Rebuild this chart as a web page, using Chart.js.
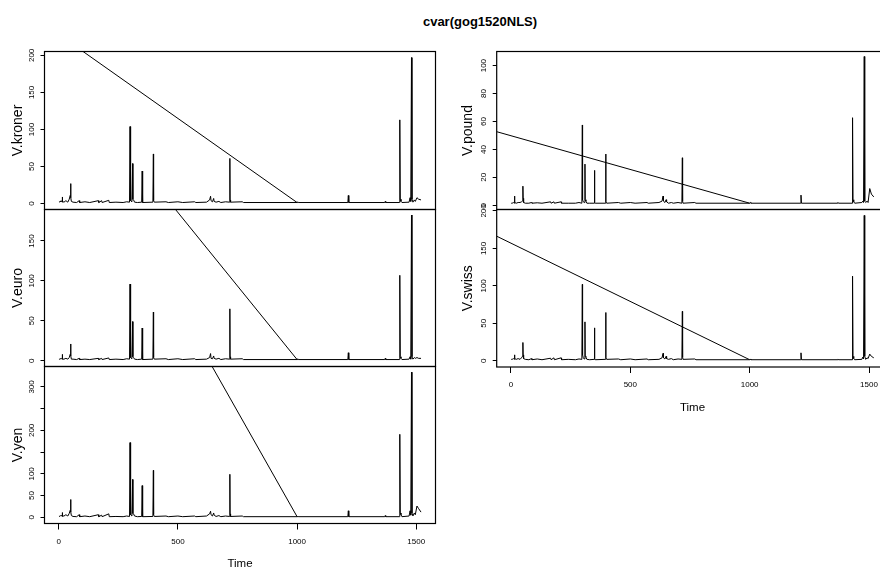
<!DOCTYPE html>
<html><head><meta charset="utf-8">
<script src="https://cdn.jsdelivr.net/npm/chart.js@4.4.1/dist/chart.umd.min.js"></script>
<style>
html,body{margin:0;padding:0;background:#fff;width:880px;height:569px;overflow:hidden;position:relative}
canvas{position:absolute;display:block}
#title{position:absolute;left:330px;width:300px;top:14px;text-align:center;font:bold 13px 'Liberation Sans',Arial,sans-serif;line-height:16px;color:#000}
</style></head><body>
<div id="title">cvar(gog1520NLS)</div>
<canvas id="cKroner"></canvas>
<canvas id="cEuro"></canvas>
<canvas id="cYen"></canvas>
<canvas id="cPound"></canvas>
<canvas id="cSwiss"></canvas>
<script>
// ---------------- data ----------------
const times = [
 1,5,10,14,15,16,22,30,38,44,
 48,50,51,53,60,75,86,88,110,130,
 166,168,180,182,210,212,240,270,285,297,
 299,300,303,307,310,311,314,318,330,348,
 350,351,353,395,397,398,401,450,460,500,
 520,570,575,620,633,637,639,645,650,652,
 660,672,680,700,716,718,719,721,770,775,
 1000,1003,1005,1213,1215,1217,1368,1370,1372,1429,
 1431,1433,1436,1440,1470,1474,1477,1480,1482,1486,
 1492,1496,1503,1510,1520];
const vKroner = [
 3,2,4,2,9,3,2,4,2,6,
 11,27,8,3,2,1.5,4,1.5,2.5,1.5,
 4,1.5,4,1.5,4.5,1.5,2,1.5,2.5,2,
 104,8,4,2.5,54,6,5,2,1.5,2,
 44,3,1.5,2,67,4,2,2.5,1.5,2.5,
 1.5,2.5,1.5,2,5,10,4,2.5,7,3,
 2,3,1.5,2.5,2,61,5,2,2.5,1.5,
 1.5,2.5,1.5,1.5,11,1.5,1.5,3,1.5,1.5,
 113,6,3,1.5,2,8,3,197,6,2,
 5,3,8,6,5];
const vEuro = [
 2,2,3,2,8,2,2,3,2,4,
 8,21,6,2,2,1.5,3,1.5,2,1.5,
 3,1.5,3,1.5,3.5,1.5,2,1.5,2.5,2,
 96,7,4,2.5,49,5,4,2,1.5,2,
 41,3,1.5,2,61,4,2,2.5,1.5,2.5,
 1.5,2.5,1.5,2,4,9,3,2.5,6,3,
 2,3,1.5,2.5,2,65,5,2,2.5,1.5,
 1.5,2.5,1.5,1.5,10,1.5,1.5,3,1.5,1.5,
 107,5,3,1.5,2,5,2,182.5,5,2,
 4,3,4,3,3];
const vYen = [
 3,2,5,2,11,3,3,6,3,9,
 16,41,12,4,2,1.5,6,1.5,3,1.5,
 6,1.5,5,1.5,8,1.5,2,1.5,3,2,
 172,12,6,3,87,9,8,3,1.5,2,
 73,5,1.5,2,108,6,2,3,1.5,3,
 1.5,3,1.5,3,8,14,6,3,10,5,
 2,4,1.5,3,2,99,8,2,3,1.5,
 1.5,3,1.5,1.5,15,1.5,1.5,4,1.5,1.5,
 191,10,6,1.5,3,15,5,334,10,3,
 10,6,26,20,12];
const vPound = [
 1.5,1.5,2,1.5,6.6,2,1.5,2,2,2.5,
 3,13.7,5,2,1.5,1.5,2,1.5,1.8,1.5,
 2.5,1.5,2.5,1.5,2.5,1.5,1.5,1.5,2,1.5,
 57.5,4,2.5,2,29.5,4,3,1.5,1.5,1.5,
 25,2,1.5,1.5,36.7,2.5,1.5,2,1.5,2,
 1.5,2,1.5,2,3,6.6,3,2,4,2.5,
 1.5,2,1.5,2,1.5,34,3,1.5,2,1.5,
 1.5,2,1.5,1.5,7.3,1.5,1.5,2,1.5,1.5,
 62.7,4,2.5,1.5,2,3,2,106.5,3,2,
 3,2,12,8,6];
const vSwiss = [
 2,2,3,2,8,3,2,3,2,4,
 6,24.5,8,3,2,1.5,3,1.5,2.5,1.5,
 3.5,1.5,4,1.5,4,1.5,2,1.5,2.5,2,
 102,8,4,2.5,52,6,5,2,1.5,2,
 44,3,1.5,2,64.5,4,2,2.5,1.5,2.5,
 1.5,2.5,1.5,2,4,10,4,2.5,6,3,
 2,3,1.5,2.5,2,66,5,2,2.5,1.5,
 1.5,2.5,1.5,1.5,10.7,1.5,1.5,2.5,1.5,1.5,
 113,6,3,1.5,2,5,2.5,194,6,2,
 4,3,9,6,4];

// diagonal segments (visible endpoints)
const diagTKroner = [102, 1000];   const diagVKroner = [205.2, 1.5];
const diagTEuro   = [490, 1000];   const diagVEuro   = [189.4, 1.5];
const diagTYen    = [643.6, 1000]; const diagVYen    = [347, 1.5];
const diagTPound  = [-60, 1000];   const diagVPound  = [52.7, 1.5];
const diagTSwiss  = [-60, 1000];   const diagVSwiss  = [166.3, 1.5];

// tick values / labels
const xTicks = [0, 500, 1000, 1500];
const xTickLabels = ['0', '500', '1000', '1500'];
const kronerTicks = [0, 50, 100, 150, 200];
const kronerLabels = ['0', '50', '100', '150', '200'];
const euroTicks = [0, 50, 100, 150];
const euroLabels = ['0', '50', '100', '150'];
const yenTicks = [0, 50, 100, 150, 200, 250, 300];
const yenLabels = ['0', '50', '100', '', '200', '', '300'];
const poundTicks = [0, 20, 40, 60, 80, 100];
const poundLabels = ['0', '20', '40', '60', '80', '100'];
const swissTicks = [0, 50, 100, 150, 200];
const swissLabels = ['0', '50', '100', '150', '200'];

// ---------------- layout ----------------
const NARROW = "'Liberation Sans Narrow','Liberation Sans',Arial,sans-serif";
const REG = "'Liberation Sans',Arial,sans-serif";
const X_MIN = -59.76, X_MAX = 1580.76;

const panels = [
 {id:'cKroner', name:'V.kroner', v:vKroner, dt:diagTKroner, dv:diagVKroner, ticks:kronerTicks, labels:kronerLabels,
  ymin:-7.9, ymax:205.2, canvasLeft:0, boxLeft:44.5, boxRight:435.5, boxTop:51.5, boxBottom:209.5, xaxis:false, titlePad:9.9},
 {id:'cEuro', name:'V.euro', v:vEuro, dt:diagTEuro, dv:diagVEuro, ticks:euroTicks, labels:euroLabels,
  ymin:-7.2, ymax:189.4, canvasLeft:0, boxLeft:44.5, boxRight:435.5, boxTop:209.5, boxBottom:366.5, xaxis:false, titlePad:9.9},
 {id:'cYen', name:'V.yen', v:vYen, dt:diagTYen, dv:diagVYen, ticks:yenTicks, labels:yenLabels,
  ymin:-14.2, ymax:347, canvasLeft:0, boxLeft:44.5, boxRight:435.5, boxTop:366.5, boxBottom:523.5, xaxis:true, titlePad:9.9},
 {id:'cPound', name:'V.pound', v:vPound, dt:diagTPound, dv:diagVPound, ticks:poundTicks, labels:poundLabels,
  ymin:-3.0, ymax:110.1, canvasLeft:452, boxLeft:496.7, boxRight:888.3, boxTop:51.5, boxBottom:209.5, xaxis:false, titlePad:7.9},
 {id:'cSwiss', name:'V.swiss', v:vSwiss, dt:diagTSwiss, dv:diagVSwiss, ticks:swissTicks, labels:swissLabels,
  ymin:-8.2, ymax:201.9, canvasLeft:452, boxLeft:496.7, boxRight:888.3, boxTop:209.5, boxBottom:367, xaxis:true, titlePad:7.9}
];

const boxPlugin = {
  id:'box',
  afterDatasetsDraw(chart){
    const {ctx, chartArea:a} = chart;
    ctx.save();
    ctx.strokeStyle = '#000';
    ctx.lineWidth = 1.2;
    ctx.strokeRect(a.left, a.top, a.right - a.left, a.bottom - a.top);
    ctx.restore();
  }
};

function noOverhang(s){
  s.paddingTop = 0; s.paddingBottom = 0; s.paddingLeft = 0; s.paddingRight = 0;
}

function makePanel(p){
  const cv = document.getElementById(p.id);
  const canvasTop = Math.floor(p.boxTop) - 6;
  const padT = p.boxTop - canvasTop;
  const boxH = p.boxBottom - p.boxTop;
  const xH = p.xaxis ? 47.5 : 0;
  const H = Math.ceil(padT + boxH + xH + 6);
  const padB = H - padT - boxH - xH;
  const W = Math.ceil(p.boxRight - p.canvasLeft + 5);
  const padR = W - (p.boxRight - p.canvasLeft);
  cv.width = W; cv.height = H;
  cv.style.width = W + 'px'; cv.style.height = H + 'px';
  cv.style.left = p.canvasLeft + 'px'; cv.style.top = canvasTop + 'px';

  new Chart(cv, {
    type:'line',
    data:{datasets:[
      {data: times.map((t,i)=>({x:t, y:p.v[i]})), borderColor:'#000', borderWidth:1, pointRadius:0, tension:0, borderJoinStyle:'round', fill:false},
      {data: p.dt.map((t,i)=>({x:t, y:p.dv[i]})), borderColor:'#000', borderWidth:1, pointRadius:0, tension:0, fill:false}
    ]},
    options:{
      responsive:false, animation:false, devicePixelRatio:1, events:[],
      layout:{padding:{left:0, right:padR, top:padT, bottom:padB}},
      plugins:{legend:{display:false}, tooltip:{enabled:false}, title:{display:false}},
      scales:{
        x:{
          type:'linear', min:X_MIN, max:X_MAX, display:p.xaxis,
          afterFit:(s)=>{ s.height = xH; noOverhang(s); },
          afterBuildTicks:(s)=>{ s.ticks = xTicks.map(v=>({value:v})); },
          ticks:{callback:(v,i)=>xTickLabels[i], autoSkip:false, maxRotation:0, minRotation:0, padding:7,
                 color:'#000', font:{family:NARROW, size:8}},
          grid:{drawOnChartArea:false, drawTicks:true, tickLength:6, color:'#000', lineWidth:1},
          border:{display:false},
          title:{display:true, text:'Time', color:'#000', padding:0, font:{family:NARROW, size:11.5}}
        },
        y:{
          type:'linear', min:p.ymin, max:p.ymax,
          afterFit:(s)=>{ s.width = p.boxLeft - p.canvasLeft; noOverhang(s); },
          afterBuildTicks:(s)=>{ s.ticks = p.ticks.map(v=>({value:v})); },
          ticks:{callback:(v,i)=>p.labels[i], autoSkip:false, minRotation:90, maxRotation:90, crossAlign:'center',
                 padding:2.4, color:'#000', font:{family:REG, size:8}},
          grid:{drawOnChartArea:false, drawTicks:true, tickLength:4, color:'#000', lineWidth:1},
          border:{display:false},
          title:{display:true, text:p.name, color:'#000', padding:{top:p.titlePad, bottom:0}, font:{family:REG, size:14}}
        }
      }
    },
    plugins:[boxPlugin]
  });
}
panels.forEach(makePanel);
</script>
</body></html>
